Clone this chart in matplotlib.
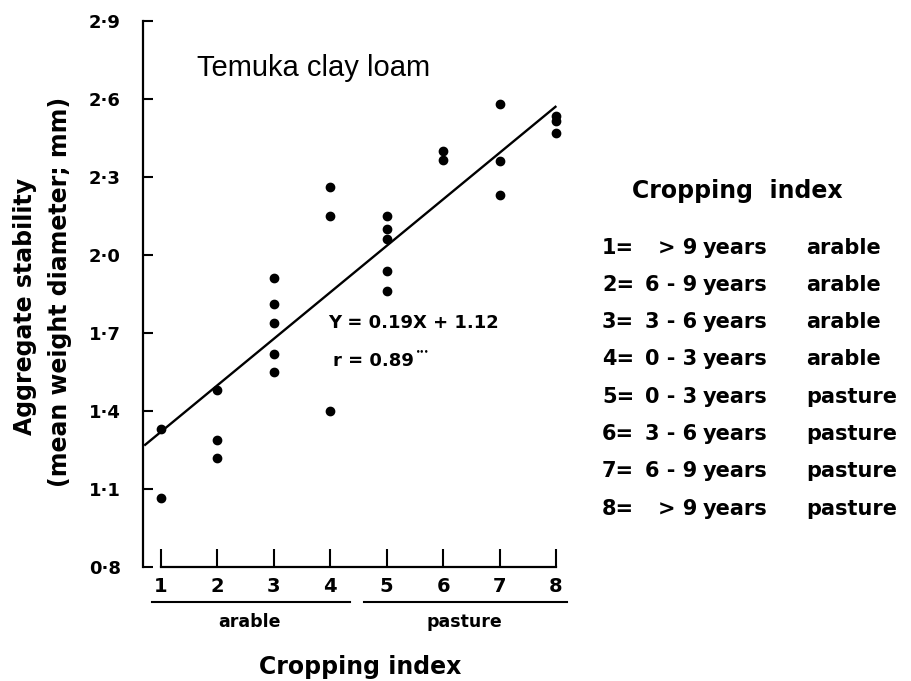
import matplotlib
matplotlib.use("Agg")
import matplotlib.pyplot as plt
from matplotlib.ticker import FuncFormatter

W, H = 911, 681

# ---- data ----
cropping_index = [1, 1,
                  2, 2, 2,
                  3, 3, 3, 3, 3,
                  4, 4, 4,
                  5, 5, 5, 5, 5,
                  6, 6,
                  7, 7, 7,
                  8, 8, 8]
stability = [1.33, 1.065,
             1.48, 1.29, 1.22,
             1.91, 1.81, 1.74, 1.62, 1.55,
             2.26, 2.15, 1.40,
             2.15, 2.10, 2.06, 1.94, 1.86,
             2.40, 2.365,
             2.58, 2.36, 2.23,
             2.535, 2.515, 2.47]
fit_x = [0.72, 7.99]
fit_y = [1.27, 2.57]
x_ticks = [1, 2, 3, 4, 5, 6, 7, 8]
y_ticks = [0.8, 1.1, 1.4, 1.7, 2.0, 2.3, 2.6, 2.9]
legend_nums = ["1=", "2=", "3=", "4=", "5=", "6=", "7=", "8="]
legend_ranges = ["> 9", "6 - 9", "3 - 6", "0 - 3", "0 - 3", "3 - 6", "6 - 9", "> 9"]
legend_types = ["arable", "arable", "arable", "arable",
                "pasture", "pasture", "pasture", "pasture"]
groups = ["arable", "pasture"]
group_spans = [(0.84, 4.35), (4.60, 8.19)]

BOLD = dict(family="DejaVu Sans", fontweight="bold", color="black")

fig = plt.figure(figsize=(W / 100, H / 100), dpi=100)
fig.patch.set_facecolor("white")

# axes placed so that x=0.68..8.2 and y=0.75..2.95 map onto the reference pixels
ax = fig.add_axes([142.9 / W, 1 - 580 / H, (567.3 - 142.9) / W, (580 - 8) / H])
ax.set_xlim(0.68, 8.2)
ax.set_ylim(0.75, 2.95)
ax.patch.set_alpha(0)

for s in ["top", "right"]:
    ax.spines[s].set_visible(False)
ax.spines["left"].set_bounds(0.8, 2.9)
ax.spines["bottom"].set_position(("data", 0.8))
ax.spines["bottom"].set_bounds(1, 8)
for s in ["left", "bottom"]:
    ax.spines[s].set_linewidth(1.6)

ax.set_xticks(x_ticks)
ax.set_yticks(y_ticks)
ax.yaxis.set_major_formatter(FuncFormatter(lambda v, p: f"{v:.1f}".replace(".", "\u00b7")))
ax.tick_params(axis="y", direction="in", length=7.5, width=1.5, pad=16, labelsize=13)
ax.tick_params(axis="x", direction="in", length=13, width=1.5, pad=7, labelsize=14)
for lab in ax.get_xticklabels() + ax.get_yticklabels():
    lab.set_fontweight("bold")
    lab.set_family("DejaVu Sans")

ax.plot(cropping_index, stability, "o", color="black", markersize=6, zorder=3)
ax.plot(fit_x, fit_y, "-", color="black", linewidth=1.7, zorder=2)

def fx(px):
    return px / W

def fy(py):
    return 1 - py / H

fig.text(fx(197), fy(76), "Temuka clay loam", family="Liberation Sans",
         fontsize=21, va="baseline", ha="left")
fig.text(fx(328), fy(328), "Y = 0.19X + 1.12", fontsize=13, va="baseline", ha="left", **BOLD)
fig.text(fx(333), fy(366), "r = 0.89", fontsize=13, va="baseline", ha="left", **BOLD)
fig.text(fx(416), fy(351), "\u2022\u2022\u2022", fontsize=5, va="center", ha="left", **BOLD)

# y-axis title (two lines)
fig.text(fx(25), fy(306), "Aggregate stability", rotation=90, fontsize=17,
         ha="center", va="center", **BOLD)
fig.text(fx(60), fy(292), "(mean weight diameter; mm)", rotation=90, fontsize=17,
         ha="center", va="center", **BOLD)

# group brackets under the x axis
for g, (a, b) in zip(groups, group_spans):
    ax.plot([a, b], [0.665, 0.665], color="black", linewidth=1.5, clip_on=False)
    ax.text((a + b) / 2 - 0.02, 0.588, g, fontsize=12.5, ha="center", va="center", **BOLD)

fig.text(fx(360), fy(674), "Cropping index", fontsize=17, ha="center", va="baseline", **BOLD)

# legend block
fig.text(fx(737), fy(198), "Cropping  index", fontsize=17, ha="center", va="baseline", **BOLD)
row0, step = 253.5, 37.3
for i, (n, r, t) in enumerate(zip(legend_nums, legend_ranges, legend_types)):
    yb = row0 + i * step
    fig.text(fx(602), fy(yb), n, fontsize=15, ha="left", va="baseline", **BOLD)
    fig.text(fx(697), fy(yb), r, fontsize=15, ha="right", va="baseline", **BOLD)
    fig.text(fx(703), fy(yb), "years", fontsize=15, ha="left", va="baseline", **BOLD)
    fig.text(fx(806), fy(yb), t, fontsize=15, ha="left", va="baseline", **BOLD)

fig.savefig("out.png", dpi=100, facecolor="white")
